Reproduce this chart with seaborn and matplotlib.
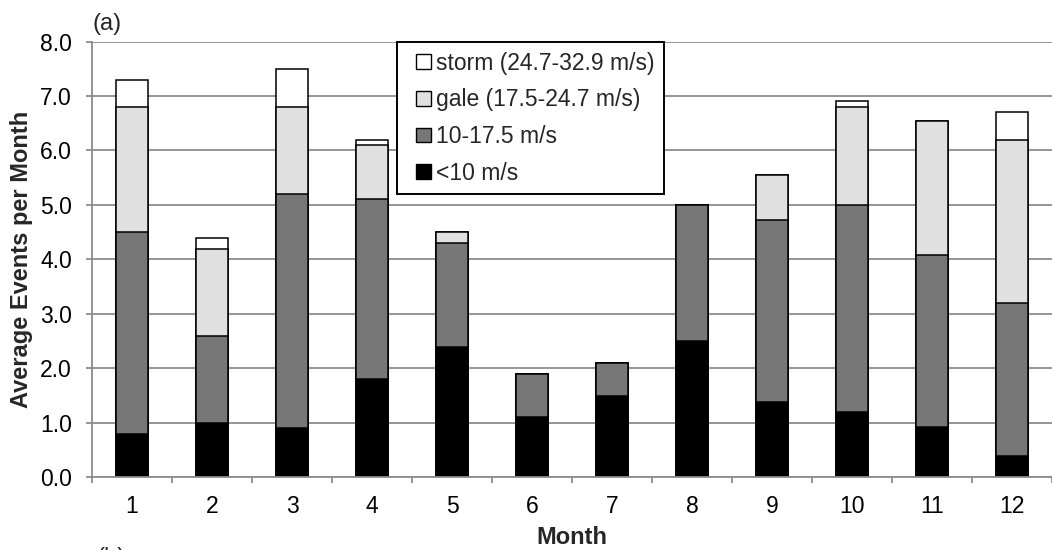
import numpy as np
import pandas as pd
import matplotlib
matplotlib.use("Agg")
import matplotlib.pyplot as plt
from matplotlib.patches import Patch, Rectangle
from matplotlib.legend_handler import HandlerPatch
from matplotlib.ticker import FixedLocator
import seaborn as sns

# Average wind events per month, split by wind-speed class (segment heights)
months = [str(m) for m in range(1, 13)]
below_10 = [0.8, 1.0, 0.9, 1.8, 2.4, 1.1, 1.5, 2.5, 1.38, 1.2, 0.92, 0.4]
range_10_17 = [3.7, 1.6, 4.3, 3.3, 1.9, 0.8, 0.6, 2.5, 3.35, 3.8, 3.16, 2.8]
gale = [2.3, 1.6, 1.6, 1.0, 0.2, 0.0, 0.0, 0.0, 0.82, 1.8, 2.46, 3.0]
storm = [0.5, 0.2, 0.7, 0.1, 0.0, 0.0, 0.0, 0.0, 0.0, 0.1, 0.0, 0.5]

labels = ["storm (24.7-32.9 m/s)", "gale (17.5-24.7 m/s)", "10-17.5 m/s", "<10 m/s"]
colors = ["#ffffff", "#e0e0e0", "#777777", "#000000"]

sns.set_theme(style="white")
plt.rcParams["font.family"] = ["Liberation Sans", "DejaVu Sans"]

# cumulative tops of each stacked layer, bottom to top
layers = np.array([below_10, range_10_17, gale, storm])
tops = np.cumsum(layers, axis=0)
df = pd.DataFrame({
    "month": months,
    "top_below_10": tops[0],
    "top_10_17": tops[1],
    "top_gale": tops[2],
    "top_storm": tops[3],
})

fig = plt.figure(figsize=(10.52, 5.5), dpi=100)
ax = fig.add_axes([0.0875, 0.1322, 0.9125, 0.7923])

grid_col = "#8c8c8c"
bar_kw = dict(width=0.41, edgecolor="black", linewidth=1.1, saturation=1, ax=ax)
# draw the tallest layer first so each lower layer sits over it
for col, c in zip(["top_storm", "top_gale", "top_10_17", "top_below_10"], colors):
    sns.barplot(data=df, x="month", y=col, order=months, color=c, **bar_kw)

yticks = np.arange(0, 8.01, 1.0)
ax.set_xlim(-0.5, 11.5)
ax.set_ylim(0, 8.0)
ax.set_yticks(yticks)
ax.set_yticklabels([f"{v:.1f}" for v in yticks])
ax.set_axisbelow(True)
ax.grid(axis="y", color=grid_col, linewidth=1.3)
ax.grid(axis="x", visible=False)

for side in ["top", "right"]:
    ax.spines[side].set_visible(False)
for side in ["left", "bottom"]:
    ax.spines[side].set_color(grid_col)
    ax.spines[side].set_linewidth(1.3)

# category boundaries carry the x tick marks
ax.xaxis.set_minor_locator(FixedLocator(np.arange(-0.5, 11.6, 1.0)))
ax.tick_params(axis="x", which="major", length=0, pad=13, labelsize=16.5, colors="black")
ax.tick_params(axis="x", which="minor", bottom=True, length=4, width=1.3, color=grid_col, direction="out")
ax.tick_params(axis="y", which="major", left=True, length=4.5, width=1.3, color=grid_col,
               pad=10, labelsize=16.5, labelcolor="black")

ax.set_xlabel("Month", fontsize=17, fontweight="bold")
ax.set_ylabel("Average Events per Month", fontsize=17, fontweight="bold")
ax.xaxis.set_label_coords(0.5, -0.112)
ax.yaxis.set_label_coords(-0.062, 0.5)


def square_key(legend, orig_handle, xdescent, ydescent, width, height, fontsize):
    # small square key sitting at the right end of the handle box
    side = height
    return Rectangle((width - side - xdescent, -ydescent), side, side)


handles = [Patch(facecolor=c, edgecolor="black", linewidth=1.0) for c in colors]
leg = ax.legend(handles, labels, loc="upper left", bbox_to_anchor=(0.3177, 0.999),
                fontsize=16.5, frameon=True, fancybox=False, framealpha=1,
                edgecolor="black", handlelength=1.05, handleheight=0.6,
                handletextpad=0.22, labelspacing=0.6, borderpad=0.42,
                borderaxespad=0,
                handler_map={Patch: HandlerPatch(patch_func=square_key)})
leg.get_frame().set_linewidth(1.4)

fig.text(93 / 1052, 0.956, "(a)", fontsize=17, va="center", ha="left")
fig.text(97 / 1052, -0.014, "(b)", fontsize=17, va="center", ha="left")

fig.savefig("out.png", dpi=100)
